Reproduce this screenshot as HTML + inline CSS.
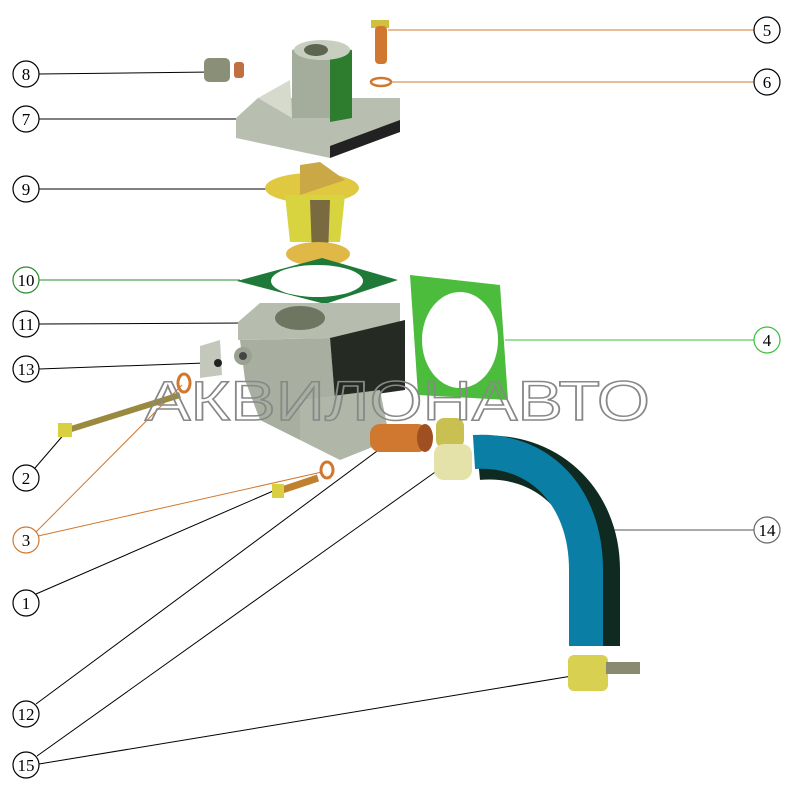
<!DOCTYPE html>
<html><head><meta charset="utf-8"><style>
html,body{margin:0;padding:0;background:#fff;width:800px;height:800px;overflow:hidden}
svg text{font-family:"Liberation Serif",serif}
</style></head><body>
<svg width="800" height="800" viewBox="0 0 800 800" xmlns="http://www.w3.org/2000/svg">
<g stroke="#000" stroke-width="1" fill="none">
<line x1="39" y1="74" x2="212" y2="72"/>
<line x1="39" y1="119" x2="258" y2="119"/>
<line x1="39" y1="189" x2="285" y2="189"/>
<line x1="39" y1="324" x2="245" y2="323"/>
<line x1="39" y1="369" x2="205" y2="363"/>
<line x1="35" y1="468" x2="66" y2="432"/>
<line x1="36" y1="594" x2="280" y2="488"/>
<line x1="36" y1="704" x2="392" y2="440"/>
<line x1="37" y1="756" x2="438" y2="470"/>
<line x1="39" y1="764" x2="572" y2="676"/>
<line x1="605" y1="530" x2="754" y2="530" stroke="#555"/>
</g>
<g stroke="#2a8a2a" stroke-width="1" fill="none">
<line x1="39" y1="280" x2="240" y2="280"/>
<line x1="505" y1="340" x2="754" y2="340" stroke="#3bbf3b"/>
</g>
<g stroke="#d07830" stroke-width="1" fill="none">
<line x1="388" y1="30" x2="754" y2="30"/>
<line x1="392" y1="82" x2="754" y2="82"/>
<line x1="36" y1="532" x2="182" y2="385"/>
<line x1="38" y1="536" x2="322" y2="472"/>
</g>
<rect x="204" y="58" width="26" height="24" rx="5" fill="#8a9078"/>
<rect x="234" y="62" width="10" height="16" rx="3" fill="#c07040"/>
<polygon points="236,118 258,98 400,98 400,132 330,158 236,138" fill="#b8bfb0"/>
<polygon points="330,158 400,132 400,120 330,146" fill="#222"/>
<path d="M292,50 Q320,38 352,50 L352,118 L292,118 Z" fill="#a4ac9c"/>
<path d="M330,55 L352,50 L352,118 L330,122 Z" fill="#2e7d2e"/>
<ellipse cx="322" cy="50" rx="28" ry="10" fill="#c8cec0"/>
<ellipse cx="316" cy="50" rx="12" ry="6" fill="#5d6450"/>
<path d="M258,98 L290,80 L292,118 Z" fill="#d5dacd"/>
<rect x="371" y="20" width="18" height="8" fill="#d0c040"/>
<rect x="375" y="26" width="12" height="38" rx="4" fill="#d07830"/>
<ellipse cx="381" cy="82" rx="10" ry="4" fill="none" stroke="#d07830" stroke-width="2.5"/>
<ellipse cx="312" cy="188" rx="47" ry="15" fill="#e0c840"/>
<path d="M285,195 L345,195 L340,242 L290,242 Z" fill="#d8d440"/>
<path d="M310,200 L330,200 L328,255 L312,255Z" fill="#7a6a40"/>
<ellipse cx="318" cy="254" rx="32" ry="12" fill="#e0b848"/>
<path d="M300,165 L320,162 L345,180 L300,195Z" fill="#c9a845"/>
<polygon points="237,281 322,258 398,280 325,304" fill="#1f7a3a"/>
<ellipse cx="317" cy="281" rx="46" ry="16" fill="#fff"/>
<polygon points="238,322 260,303 400,303 400,340 330,338 238,340" fill="#b6bcae"/>
<ellipse cx="300" cy="318" rx="25" ry="12" fill="#6e7560"/>
<polygon points="240,340 330,338 335,400 300,440 260,420 245,380" fill="#a8afa0"/>
<polygon points="330,338 405,320 405,390 335,400" fill="#252b22"/>
<path d="M300,400 L380,390 L390,440 L340,460 L300,440Z" fill="#b0b6a8"/>
<circle cx="243" cy="356" r="9" fill="#9aa190"/><circle cx="243" cy="356" r="4" fill="#444"/>
<polygon points="200,346 220,340 222,375 200,378" fill="#c4c8bc"/>
<circle cx="218" cy="363" r="4" fill="#222"/>
<polygon points="410,275 500,285 508,400 418,395" fill="#4cbc3c"/>
<ellipse cx="460" cy="340" rx="38" ry="48" fill="#fff"/>
<line x1="68" y1="430" x2="180" y2="395" stroke="#9a8a40" stroke-width="6"/>
<rect x="58" y="423" width="14" height="14" fill="#d8d040"/>
<ellipse cx="184" cy="383" rx="6" ry="9" fill="none" stroke="#d07830" stroke-width="3"/>
<line x1="282" y1="490" x2="318" y2="478" stroke="#c08030" stroke-width="7"/>
<rect x="272" y="484" width="12" height="14" fill="#d8d040"/>
<ellipse cx="327" cy="470" rx="6" ry="8" fill="none" stroke="#d07830" stroke-width="3"/>
<rect x="370" y="424" width="58" height="28" rx="10" fill="#d07830"/>
<ellipse cx="425" cy="438" rx="8" ry="14" fill="#a05020"/>
<!-- clamps -->
<rect x="436" y="418" width="28" height="30" rx="8" fill="#c8c050"/>
<rect x="434" y="444" width="38" height="36" rx="10" fill="#e4e2a8"/>
<!-- hose -->
<path d="M478,458 C545,452 598,500 598,570 L598,646" stroke="#0f2a20" stroke-width="44" fill="none"/>
<path d="M474,452 C538,448 586,495 586,570 L586,646" stroke="#0a7ea4" stroke-width="34" fill="none"/>
<rect x="568" y="655" width="40" height="36" rx="6" fill="#d8d050"/>
<rect x="606" y="662" width="34" height="12" fill="#8a8a70"/>
<text x="145" y="420" textLength="505" lengthAdjust="spacingAndGlyphs" font-size="56" fill="none" stroke="#888" stroke-width="1.5" style="font-family:'Liberation Sans',sans-serif">АКВИЛОНАВТО</text>
<g fill="#fff" stroke="#000" stroke-width="1.2">
<circle cx="26" cy="74" r="13"/><circle cx="26" cy="119" r="13"/><circle cx="26" cy="189" r="13"/>
<circle cx="26" cy="324" r="13"/><circle cx="26" cy="369" r="13"/><circle cx="26" cy="478" r="13"/>
<circle cx="26" cy="603" r="13"/><circle cx="26" cy="714" r="13"/><circle cx="26" cy="765" r="13"/>
<circle cx="767" cy="30" r="13"/><circle cx="767" cy="82" r="13"/><circle cx="767" cy="530" r="13" stroke="#666"/>
<circle cx="26" cy="280" r="13" stroke="#2a8a2a"/><circle cx="767" cy="340" r="13" stroke="#3bbf3b"/>
<circle cx="26" cy="540" r="13" stroke="#d07830"/>
</g>
<g font-size="17" text-anchor="middle" fill="#000">
<text x="26" y="80">8</text><text x="26" y="125">7</text><text x="26" y="195">9</text>
<text x="26" y="286">10</text><text x="26" y="330">11</text><text x="26" y="375">13</text>
<text x="26" y="484">2</text><text x="26" y="546">3</text><text x="26" y="609">1</text>
<text x="26" y="720">12</text><text x="26" y="771">15</text>
<text x="767" y="36">5</text><text x="767" y="88">6</text><text x="767" y="346">4</text><text x="767" y="536">14</text>
</g>
</svg>
</body></html>
